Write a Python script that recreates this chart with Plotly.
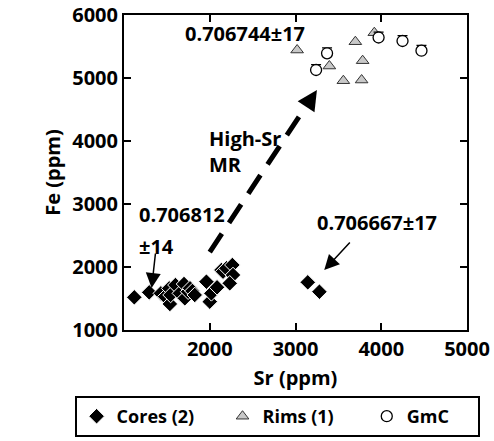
import plotly.graph_objects as go

# ---- data ----
cores_sr = [1120, 1294, 1430, 1480, 1535, 1527, 1543, 1600, 1651, 1700, 1709, 1748, 1770,
            1798, 1825, 1961, 2000, 2019, 2085, 2136, 2155, 2194, 2264, 2271, 2233, 3143, 3279]
cores_fe = [1519, 1598, 1582, 1529, 1413, 1661, 1556, 1714, 1582, 1730, 1503, 1608, 1662,
            1619, 1556, 1767, 1450, 1582, 1678, 1952, 1926, 1979, 2032, 1873, 1741, 1757, 1608]

rims_sr = [3019, 3395, 3558, 3698, 3783, 3771, 3919]
rims_fe = [5444, 5190, 4957, 5576, 5275, 4968, 5719]

gmc_sr = [3240, 3368, 3969, 4248, 4469]
gmc_fe = [5127, 5392, 5643, 5587, 5433]
gmc_err = [85, 85, 85, 85, 85]

x_ticks = [2000, 3000, 4000, 5000]
y_ticks = [1000, 2000, 3000, 4000, 5000, 6000]

FONT = "Open Sans"
NB = "\u00a0"

fig = go.Figure()
fig.add_trace(go.Scatter(
    x=cores_sr, y=cores_fe, mode="markers", name="Cores (2)" + NB * 5,
    marker=dict(symbol="diamond", size=12, color="black", line=dict(color="white", width=1))))
fig.add_trace(go.Scatter(
    x=rims_sr, y=rims_fe, mode="markers", name="Rims (1)" + NB * 6,
    marker=dict(symbol="triangle-up", size=11, color="#c8c8c8", line=dict(color="#333333", width=1))))
fig.add_trace(go.Scatter(
    x=gmc_sr, y=gmc_fe, mode="markers", name="GmC" + NB * 5,
    error_y=dict(type="data", array=gmc_err, arrayminus=[0] * len(gmc_err), visible=True,
                 color="black", thickness=1.2, width=5),
    marker=dict(symbol="circle", size=11, color="white", line=dict(color="black", width=1.3))))

# dashed "High-Sr MR" arrow
fig.add_shape(type="line", x0=2000, y0=2238, x1=3174, y1=4660, xref="x", yref="y",
              line=dict(color="black", width=5, dash="22px,13px"))
fig.add_annotation(x=3250, y=4810, xref="x", yref="y", text="", showarrow=True,
                   ax=-11, ay=17, arrowhead=2, arrowsize=1.6, arrowwidth=2.5, arrowcolor="black")

tfont = dict(family=FONT, size=20, color="black", weight="bold")
fig.add_annotation(x=2409, y=5714, text="0.706744±17", showarrow=False, font=tfont)
fig.add_annotation(x=1965, y=3841, text="High-Sr<br>MR", showarrow=False, xanchor="left",
                   align="left", font=tfont)
fig.add_annotation(x=1147, y=2841, text="0.706812", showarrow=False, xanchor="left", font=tfont)
fig.add_annotation(x=1147, y=2333, text="±14", showarrow=False, xanchor="left", font=tfont)
fig.add_annotation(x=3951, y=2714, text="0.706667±17", showarrow=False, font=tfont)

fig.add_annotation(x=1322, y=1667, text="", showarrow=True, ax=4, ay=-36,
                   arrowhead=2, arrowsize=2, arrowwidth=1.5, arrowcolor="black")
fig.add_annotation(x=3335, y=1952, text="", showarrow=True, ax=27, ay=-29,
                   arrowhead=2, arrowsize=2, arrowwidth=1.5, arrowcolor="black")

axis_common = dict(showline=True, linecolor="black", linewidth=2, mirror="ticks",
                   ticks="inside", ticklen=7, tickwidth=2, tickcolor="black",
                   showgrid=False, zeroline=False,
                   tickfont=dict(family=FONT, size=20, color="black", weight="bold"))

fig.update_xaxes(range=[1000, 5000], tickvals=x_ticks,
                 title=dict(text="Sr (ppm)", font=dict(family=FONT, size=20, color="black", weight="bold"),
                            standoff=10),
                 **axis_common)
fig.update_yaxes(range=[1000, 6000], tickvals=y_ticks,
                 title=dict(text="Fe (ppm)", font=dict(family=FONT, size=20, color="black", weight="bold"),
                            standoff=6),
                 **axis_common)

fig.update_layout(
    width=494, height=441,
    margin=dict(l=124, r=27, t=15, b=111, autoexpand=False),
    paper_bgcolor="white", plot_bgcolor="white",
    showlegend=True,
    legend=dict(orientation="h", x=-0.144, xanchor="left", y=-0.3397, yanchor="bottom",
                bordercolor="black", borderwidth=2,
                font=dict(family=FONT, size=18, color="black", weight="bold")),
)

fig.write_html("out.html")
